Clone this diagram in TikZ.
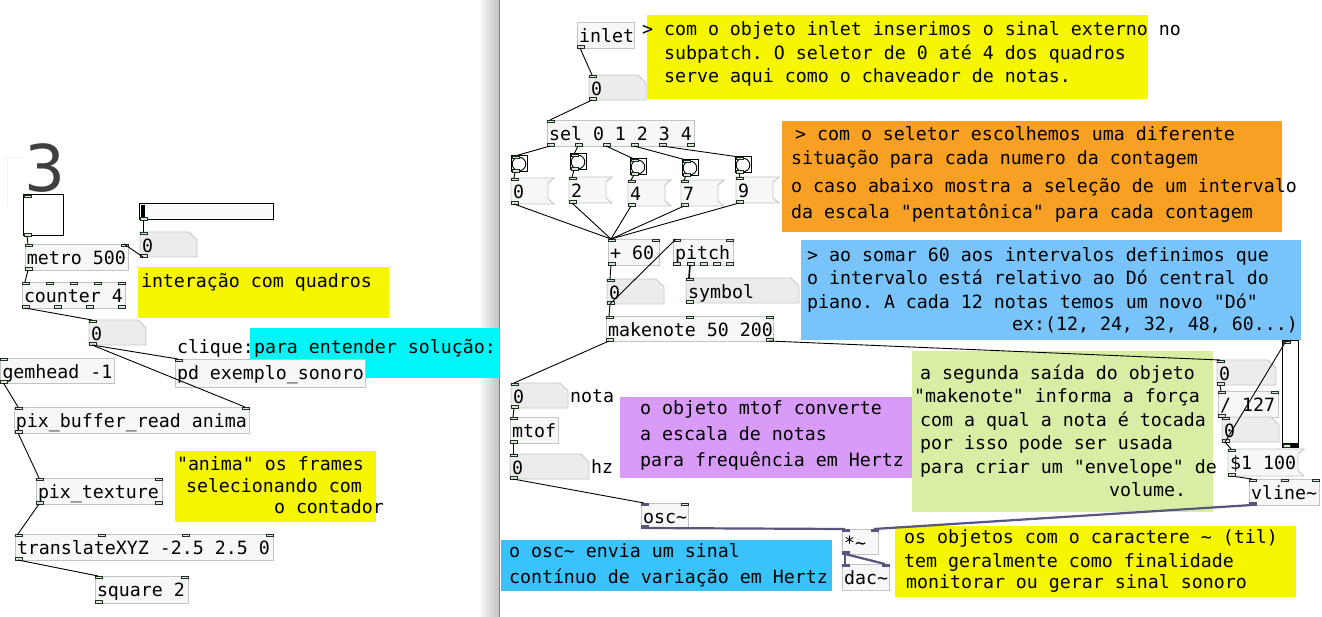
\documentclass[tikz,border=0pt]{standalone}
\usepackage{fontspec}
\setmonofont{DejaVu Sans Mono}
\newfontfamily\bigsans{DejaVu Sans}
\usetikzlibrary{calc}
\definecolor{boxf}{HTML}{F6F8F8}
\definecolor{boxb}{HTML}{C4C4C4}
\definecolor{atomf}{HTML}{ECECEC}
\definecolor{atomb}{HTML}{C8C8C8}
\definecolor{portb}{HTML}{1F2F1F}
\definecolor{portf}{HTML}{DCE6DC}
\definecolor{sigc}{HTML}{56567F}
\definecolor{yel}{HTML}{F6F600}
\definecolor{orng}{HTML}{F8A024}
\definecolor{lblue}{HTML}{78C4FA}
\definecolor{cyanc}{HTML}{00F6F6}
\definecolor{purp}{HTML}{D89CF8}
\definecolor{grn}{HTML}{D8EEA4}
\definecolor{oscb}{HTML}{3AC3FA}
\definecolor{bigc}{HTML}{3F3F3F}
\definecolor{divb}{HTML}{4A90D9}
\definecolor{faintc}{HTML}{F2F2F2}
\tikzset{
  conn/.style={line width=0.9pt, black},
  sig/.style={line width=2.2pt, sigc},
  obj/.style={draw=boxb, fill=boxf, line width=0.9pt, inner sep=0pt, outer sep=0pt},
  atombox/.style={draw=atomb, fill=atomf, line width=0.9pt},
  port/.style={draw=portb, fill=portf, line width=0.6pt},
  sport/.style={draw=sigc, fill=sigc, line width=0.6pt},
  lbl/.style={anchor=base west, inner sep=0pt, outer sep=0pt},
  gui/.style={draw=black, fill=white, line width=1pt, inner sep=0pt, outer sep=0pt},
}
\newcommand\pdIn[3]{\path[port] (#2,#3) rectangle (#2+7,#3+2.5); \coordinate (#1) at (#2+3,#3);}
\newcommand\pdOut[3]{\path[port] (#2,#3-2.5) rectangle (#2+7,#3); \coordinate (#1) at (#2+3,#3);}
\newcommand\pdSIn[3]{\path[sport] (#2,#3) rectangle (#2+7,#3+2.5); \coordinate (#1) at (#2+3,#3);}
\newcommand\pdSOut[3]{\path[sport] (#2,#3-2.5) rectangle (#2+7,#3); \coordinate (#1) at (#2+3,#3);}
\newcommand\pdO[6]{%
  \node[obj, anchor=north west, minimum width={(#4-#2)*1pt}, minimum height={(#5-#3)*1pt}] (#1) at (#2,#3) {};
  \node[lbl] (#1-t) at (#2+2,#3+20.5) {#6};}
\newcommand\pdA[6]{%
  \path[atombox] (#2,#3) -- (#4-8,#3) -- (#4,#3+8) -- (#4,#5) -- (#2,#5) -- cycle;
  \node[lbl] (#1) at (#2+2,#3+20.5) {#6};}
\newcommand\pdM[6]{%
  \path[obj] (#2,#3) -- (#4,#3) -- (#4-6,#3+5) -- (#4-6,#5-5) -- (#4,#5) -- (#2,#5) -- cycle;
  \node[lbl] (#1) at (#2+2,#3+20.5) {#6};}
\newcommand\pdB[3]{%
  \node[gui, anchor=north west, minimum size=16pt] (#1) at (#2,#3) {};
  \draw[line width=0.9pt] (#1.center) circle (6.8pt);
  \pdIn{#1-i}{#2+1}{#3}\pdOut{#1-o}{#2+1}{#3+16}}
\begin{document}
\begin{tikzpicture}[x=1pt,y=-1pt,font=\ttfamily\fontsize{18.27pt}{22pt}\selectfont\frenchspacing]
\useasboundingbox (0,0) rectangle (1322,617);
\fill[white] (0,0) rectangle (1322,617);
% window divider
\shade[left color=white, right color=black!24] (478,0) rectangle (499,617);
\draw[divb, line width=1.2pt] (499.6,0) -- (499.6,617);

% ================= LEFT WINDOW =================
\draw[faintc, line width=0.8pt] (7,207) -- (7,157) -- (23,157);
\node[lbl, text=bigc, font=\bigsans\fontsize{64.5pt}{70pt}\selectfont] (three) at (24,192) {3};

\node[gui, anchor=north west, minimum width=40pt, minimum height=41pt] (tgl) at (23,195) {};
\pdIn{tgl-i}{24}{195}\pdOut{tgl-o}{24}{236}

\node[gui, fill=white!98!black, anchor=north west, minimum width=134pt, minimum height=16pt] (hsl) at (139,204) {};
\fill[black] (140.5,205) rectangle (145,219);
\pdOut{hsl-o}{140}{220}

\pdA{numA}{140}{232}{197}{257}{0}
\pdIn{numA-i}{140}{232}\pdOut{numA-o}{140}{257}

\fill[yel] (138,267) rectangle (389,318);
\node[lbl] (cInt) at (141,288) {interação com quadros};

\pdO{metro}{25}{244}{128}{270}{metro 500}
\pdIn{metro-i0}{25}{244}\pdIn{metro-i1}{121}{244}\pdOut{metro-o0}{25}{270}

\pdO{counter}{22}{282}{125}{308}{counter 4}
\pdIn{cnt-i0}{22}{282}\pdIn{cnt-i1}{46}{282}\pdIn{cnt-i2}{70}{282}\pdIn{cnt-i3}{94}{282}\pdIn{cnt-i4}{118}{282}
\pdOut{cnt-o0}{22}{308}\pdOut{cnt-o1}{54}{308}\pdOut{cnt-o2}{86}{308}\pdOut{cnt-o3}{118}{308}

\pdA{numB}{89}{320}{146}{345}{0}
\pdIn{numB-i}{89}{320}\pdOut{numB-o}{89}{345}

\fill[cyanc] (250,328) rectangle (500,378);
\node[lbl] (clique) at (177,353) {clique:};
\node[lbl] (cPara) at (254,353) {para entender solução:};

\pdO{pdex}{175}{359}{365}{387}{pd exemplo\_sonoro}
\pdIn{pdex-i}{175}{359}

\pdO{gemhead}{0.5}{358}{114}{383}{gemhead -1}
\pdIn{gem-i}{0.5}{358}\pdOut{gem-o}{0.5}{383}

\pdO{pbr}{14}{407}{249}{433}{pix\_buffer\_read anima}
\pdIn{pbr-i0}{15}{407}\pdIn{pbr-i1}{242}{407}\pdOut{pbr-o}{15}{433}

\fill[yel] (175,451) rectangle (376,522);
\node[lbl] (cAn1) at (177,470) {"anima" os frames};
\node[lbl] (cAn2) at (186,492) {selecionando com};
\node[lbl] (cAn3) at (274,513) {o contador};

\pdO{ptex}{36}{478}{162}{504}{pix\_texture}
\pdIn{ptex-i0}{36}{478}\pdIn{ptex-i1}{155}{478}\pdOut{ptex-o0}{36}{504}\pdOut{ptex-o1}{155}{504}

\pdO{trans}{15}{534}{273}{560}{translateXYZ -2.5 2.5 0}
\pdIn{tr-i0}{15}{534}\pdIn{tr-i1}{98}{534}\pdIn{tr-i2}{182}{534}\pdIn{tr-i3}{266}{534}\pdOut{tr-o}{15}{560}

\pdO{square}{95}{576}{188}{603}{square 2}
\pdIn{sq-i0}{95}{576}\pdIn{sq-i1}{181}{576}\pdOut{sq-o}{95}{603}

% left connections
\draw[conn] (tgl-o) -- (metro-i0);
\draw[conn] (hsl-o) -- (numA-i);
\draw[conn] (numA-o) -- (metro-i1);
\draw[conn] (metro-o0) -- (cnt-i0);
\draw[conn] (cnt-o0) -- (numB-i);
\draw[conn] (numB-o) -- (pdex-i);
\draw[conn] (numB-o) -- (pbr-i1);
\draw[conn] (gem-o) -- (pbr-i0);
\draw[conn] (pbr-o) -- (ptex-i0);
\draw[conn] (ptex-o0) -- (tr-i0);
\draw[conn] (tr-o) -- (sq-i0);

% ================= RIGHT WINDOW =================
\fill[yel] (647,15) rectangle (1148,99);
\node[lbl] (c1a) at (642,36) {> com o objeto inlet inserimos o sinal externo no};
\node[lbl] (c1b) at (664,60) {subpatch. O seletor de 0 até 4 dos quadros};
\node[lbl] (c1c) at (664,83) {serve aqui como o chaveador de notas.};

\fill[orng] (782,121) rectangle (1282,232);
\node[lbl] (c2a) at (795,141) {> com o seletor escolhemos uma diferente};
\node[lbl] (c2b) at (791,165) {situação para cada numero da contagem};
\node[lbl] (c2c) at (791,193) {o caso abaixo mostra a seleção de um intervalo};
\node[lbl] (c2d) at (791,219) {da escala "pentatônica" para cada contagem};

\fill[lblue] (801,240) rectangle (1301,340);
\node[lbl] (c3a) at (807,262) {> ao somar 60 aos intervalos definimos que};
\node[lbl] (c3b) at (807,285) {o intervalo está relativo ao Dó central do};
\node[lbl] (c3c) at (807,309) {piano. A cada 12 notas temos um novo "Dó"};
\node[lbl] (c3d) at (1012,331) {ex:(12, 24, 32, 48, 60...)};

\fill[purp] (620,397) rectangle (912,478);
\node[lbl] (c4a) at (640,414) {o objeto mtof converte};
\node[lbl] (c4b) at (640,440) {a escala de notas};
\node[lbl] (c4c) at (640,466) {para frequência em Hertz};

\fill[grn] (912,351) rectangle (1213,512);
\node[lbl] (c5a) at (920,380) {a segunda saída do objeto};
\node[lbl] (c5b) at (914,402) {"makenote" informa a força};
\node[lbl] (c5c) at (920,426) {com a qual a nota é tocada};
\node[lbl] (c5d) at (920,449) {por isso pode ser usada};
\node[lbl] (c5e) at (920,473) {para criar um "envelope" de};
\node[lbl] (c5f) at (1109,496) {volume.};

\fill[oscb] (501,540) rectangle (832,591);
\node[lbl] (c6a) at (509,557) {o osc\textasciitilde{} envia um sinal};
\node[lbl] (c6b) at (509,583) {contínuo de variação em Hertz};

\fill[yel] (895,526) rectangle (1296,597);
\node[lbl] (c7a) at (904,543) {os objetos com o caractere \textasciitilde{} (til)};
\node[lbl] (c7b) at (904,567) {tem geralmente como finalidade};
\node[lbl] (c7c) at (906,588) {monitorar ou gerar sinal sonoro};

% objects
\pdO{inlet}{577}{22}{634}{48}{inlet}
\pdOut{inlet-o}{577}{48}

\pdA{numC}{589}{75}{646}{100}{0}
\pdIn{numC-i}{589}{75}\pdOut{numC-o}{589}{100}

\pdO{sel}{547}{120}{694}{146}{sel 0 1 2 3 4}
\pdIn{sel-i}{547}{120}
\pdOut{sel-o0}{547}{146}\pdOut{sel-o1}{575}{146}\pdOut{sel-o2}{603}{146}\pdOut{sel-o3}{631}{146}\pdOut{sel-o4}{659}{146}\pdOut{sel-o5}{687}{146}

\pdB{bA}{511}{156}
\pdB{bB}{570}{154}
\pdB{bC}{630}{159}
\pdB{bD}{682}{160}
\pdB{bE}{735}{157}

\pdM{mA}{511}{178}{554}{204}{0}\pdIn{mA-i}{511}{178}\pdOut{mA-o}{511}{204}
\pdM{mB}{569}{177}{612}{203}{2}\pdIn{mB-i}{569}{177}\pdOut{mB-o}{569}{203}
\pdM{mC}{628}{180}{671}{206}{4}\pdIn{mC-i}{628}{180}\pdOut{mC-o}{628}{206}
\pdM{mD}{681}{180}{724}{206}{7}\pdIn{mD-i}{681}{180}\pdOut{mD-o}{681}{206}
\pdM{mE}{736}{177}{779}{203}{9}\pdIn{mE-i}{736}{177}\pdOut{mE-o}{736}{203}

\pdO{plus}{608}{239}{659}{265}{+ 60}
\pdIn{plus-i0}{608}{239}\pdIn{plus-i1}{652}{239}\pdOut{plus-o}{608}{265}

\pdO{pitch}{673}{239}{733}{265}{pitch}
\pdIn{pitch-i0}{673}{239}\pdIn{pitch-i1}{726}{239}
\pdOut{pitch-o0}{673}{265}\pdOut{pitch-o1}{687}{265}\pdOut{pitch-o2}{700}{265}\pdOut{pitch-o3}{713}{265}\pdOut{pitch-o4}{726}{265}

\pdA{symb}{686}{278}{799}{303}{symbol}
\pdIn{symb-i}{686}{278}\pdOut{symb-o}{686}{303}

\pdA{numD}{607}{279}{664}{304}{0}
\pdIn{numD-i}{607}{279}\pdOut{numD-o}{607}{304}

\pdO{mknote}{606}{316}{773}{341}{makenote 50 200}
\pdIn{mk-i0}{606}{316}\pdIn{mk-i1}{686}{316}\pdIn{mk-i2}{766}{316}
\pdOut{mk-o0}{606}{341}\pdOut{mk-o1}{766}{341}

\pdA{numN}{511}{383}{568}{408}{0}
\pdIn{numN-i}{511}{383}\pdOut{numN-o}{511}{408}
\node[lbl] (nota) at (570,402) {nota};

\pdO{mtof}{510}{417}{558}{443}{mtof}
\pdIn{mtof-i}{510}{417}\pdOut{mtof-o}{510}{443}

\pdA{numH}{510}{454}{589}{479}{0}
\pdIn{numH-i}{510}{454}\pdOut{numH-o}{510}{479}
\node[lbl] (hz) at (591,473) {hz};

\pdO{osc}{641}{503}{688}{528}{osc\textasciitilde}
\pdSIn{osc-i0}{641}{503}\pdIn{osc-i1}{681}{503}\pdSOut{osc-o}{641}{528}

\pdO{mul}{842}{529}{878}{554}{*\textasciitilde}
\pdSIn{mul-i0}{842}{529}\pdSIn{mul-i1}{871}{529}\pdSOut{mul-o}{842}{554}

\pdO{dac}{842}{564}{889}{590}{dac\textasciitilde}
\pdSIn{dac-i0}{842}{564}\pdSIn{dac-i1}{882}{564}

\pdA{numT}{1217}{360}{1276}{385}{0}
\pdIn{numT-i}{1217}{360}\pdOut{numT-o}{1217}{385}

\pdO{div}{1218}{391}{1278}{417}{/ 127}
\pdIn{div-i0}{1218}{391}\pdIn{div-i1}{1271}{391}\pdOut{div-o}{1218}{417}

\pdA{numV}{1222}{417}{1279}{442}{0}
\pdIn{numV-i}{1222}{417}\pdOut{numV-o}{1222}{442}

\node[gui, anchor=north west, minimum width=16pt, minimum height=106pt] (vsl) at (1282,341) {};
\fill[black] (1282,442.5) rectangle (1298,446.5);
\pdIn{vsl-i}{1283}{341}\pdOut{vsl-o}{1283}{447}

\pdM{msgD}{1228}{449}{1304}{476}{\$1 100}
\pdIn{msgD-i}{1228}{449}\pdOut{msgD-o}{1228}{476}

\pdO{vline}{1249}{479}{1319}{505}{vline\textasciitilde}
\pdIn{vl-i0}{1249}{479}\pdIn{vl-i1}{1281}{479}\pdIn{vl-i2}{1312}{479}\pdSOut{vl-o}{1249}{505}

% right connections
\draw[conn] (inlet-o) -- (numC-i);
\draw[conn] (numC-o) -- (sel-i);
\draw[conn] (sel-o0) -- (bA-i);
\draw[conn] (sel-o1) -- (bB-i);
\draw[conn] (sel-o2) -- (bC-i);
\draw[conn] (sel-o3) -- (bD-i);
\draw[conn] (sel-o4) -- (bE-i);
\draw[conn] (bA-o) -- (mA-i);
\draw[conn] (bB-o) -- (mB-i);
\draw[conn] (bC-o) -- (mC-i);
\draw[conn] (bD-o) -- (mD-i);
\draw[conn] (bE-o) -- (mE-i);
\draw[conn] (mA-o) -- (plus-i0);
\draw[conn] (mB-o) -- (plus-i0);
\draw[conn] (mC-o) -- (plus-i0);
\draw[conn] (mD-o) -- (plus-i0);
\draw[conn] (mE-o) -- (plus-i0);
\draw[conn] (plus-o) -- (numD-i);
\draw[conn] (numD-o) -- (pitch-i0);
\draw[conn, line width=1.6pt] (pitch-o1) -- (symb-i);
\draw[conn] (numD-o) -- (mk-i0);
\draw[conn] (mk-o0) -- (numN-i);
\draw[conn] (numN-o) -- (mtof-i);
\draw[conn] (mtof-o) -- (numH-i);
\draw[conn] (numH-o) -- (osc-i0);
\draw[conn] (mk-o1) -- (numT-i);
\draw[conn] (numT-o) -- (div-i0);
\draw[conn] (div-o) -- (numV-i);
\draw[conn] (numV-o) -- (vsl-i);
\draw[conn] (numV-o) -- (msgD-i);
\draw[conn] (msgD-o) -- (vl-i0);
\draw[sig] (osc-o) -- (mul-i0);
\draw[sig] (vl-o) -- (mul-i1);
\draw[sig] (mul-o) -- (dac-i0);
\draw[sig] (mul-o) -- (dac-i1);
\end{tikzpicture}
\end{document}
